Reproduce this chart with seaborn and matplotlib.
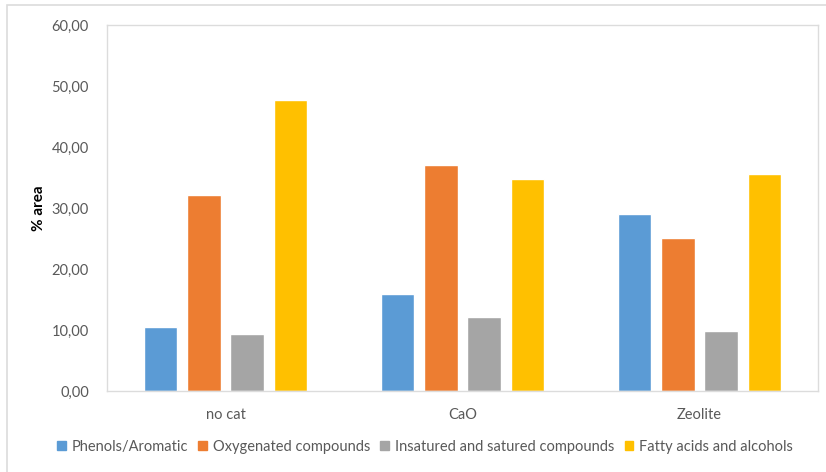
import matplotlib
matplotlib.use("Agg")
import matplotlib.pyplot as plt
import seaborn as sns
import pandas as pd
from matplotlib.ticker import FuncFormatter, MultipleLocator
from matplotlib.patches import Rectangle

catalysts = ["no cat", "CaO", "Zeolite"]
series = ["Phenols/Aromatic", "Oxygenated compounds",
          "Insatured and satured compounds", "Fatty acids and alcohols"]
phenols = [10.5, 15.85, 29.0]
oxygenated = [32.1, 37.05, 25.1]
insatured = [9.3, 12.2, 9.8]
fatty = [47.7, 34.7, 35.6]
colors = ["#5B9BD5", "#ED7D31", "#A5A5A5", "#FFC000"]

rows = []
for name, vals in zip(series, [phenols, oxygenated, insatured, fatty]):
    for c, v in zip(catalysts, vals):
        rows.append({"cat": c, "series": name, "value": v})
df = pd.DataFrame(rows)

sns.set_theme(style="white")
plt.rcParams["font.family"] = ["Lato", "DejaVu Sans"]

fig = plt.figure(figsize=(8.26, 4.72), dpi=100)
ax = fig.add_axes([107/826, 1-391/472, (818-107)/826, (391-25)/472])

sns.barplot(data=df, x="cat", y="value", hue="series", order=catalysts,
            hue_order=series, palette=colors, width=0.73, gap=0.23,
            saturation=1, errorbar=None, ax=ax)

ax.set_ylim(0, 60)
ax.yaxis.set_major_locator(MultipleLocator(10))
ax.yaxis.set_major_formatter(FuncFormatter(lambda v, p: f"{v:.2f}".replace(".", ",")))
ax.set_xlabel("")
ax.set_ylabel("% area", fontsize=11, fontweight="bold", color="#000000", labelpad=4)
ax.tick_params(axis="y", labelsize=10.5, colors="#595959", length=0, pad=13)
ax.tick_params(axis="x", labelsize=10.5, colors="#595959", length=0, pad=12)
for s in ax.spines.values():
    s.set_color("#DCDCDC")
    s.set_linewidth(1.0)

ax.legend_.remove()
handles = [Rectangle((0, 0), 1, 1, color=c) for c in colors]
fig.legend(handles, series, loc="center", bbox_to_anchor=(425/826, 1-447/472),
           ncol=4, frameon=False, fontsize=10.5, handlelength=0.6,
           handleheight=0.6, handletextpad=0.4, columnspacing=0.7,
           labelcolor="#595959")

# outer chart frame
fig.patches.append(Rectangle((7/826, -0.1), 1.1, 1-5/472+0.1, transform=fig.transFigure,
                             fill=False, edgecolor="#DCDCDC", linewidth=1.2))

fig.savefig("out.png", dpi=100, facecolor="white")
